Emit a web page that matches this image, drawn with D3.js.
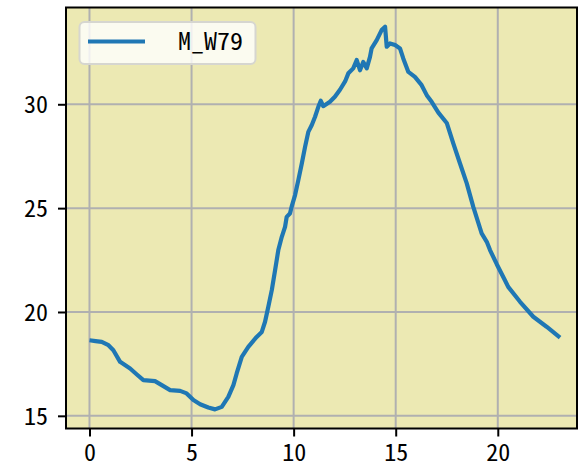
<!DOCTYPE html>
<html>
<head>
<meta charset="utf-8">
<script src="https://cdn.jsdelivr.net/npm/d3@7"></script>
<style>
    body { margin: 0; background: #ffffff; }
    text { font-family: "Noto Sans Mono CJK JP", "Noto Sans CJK JP", "DejaVu Sans Mono", sans-serif; }
</style>
</head>
<body>
<svg id="chart" width="579" height="469"></svg>
<script>
// hour of day and reading for M_W79
const hours = [0, 0.3, 0.6, 0.93, 1.17, 1.5, 1.99, 2.32, 2.64, 3.21, 3.54, 3.95, 4.44, 4.76, 5.09, 5.42,
    5.82, 6.15, 6.48, 6.8, 7.05, 7.21, 7.46, 7.78, 8.19, 8.44, 8.6, 8.76, 8.93, 9.09, 9.25, 9.42,
    9.58, 9.66, 9.82, 9.9, 10.07, 10.23, 10.4, 10.56, 10.72, 10.89, 11.05, 11.21, 11.33, 11.45, 11.78,
    12.02, 12.27, 12.52, 12.68, 12.92, 13.09, 13.25, 13.41, 13.58, 13.74, 13.82, 14.07, 14.31, 14.48,
    14.56, 14.72, 14.97, 15.21, 15.37, 15.62, 15.94, 16.27, 16.52, 16.76, 17.09, 17.5, 17.82, 18.15,
    18.48, 18.8, 19.21, 19.46, 19.62, 19.95, 20.35, 20.51, 21.09, 21.74, 22.39, 23.05];
const values = [18.64, 18.6, 18.56, 18.4, 18.16, 17.6, 17.28, 16.99, 16.72, 16.67, 16.48, 16.24, 16.2, 16.08, 15.76, 15.56,
    15.4, 15.31, 15.43, 15.91, 16.48, 17.04, 17.84, 18.32, 18.8, 19.04, 19.53, 20.25, 21.05, 22.0, 22.98, 23.62,
    24.1, 24.58, 24.74, 25.06, 25.63, 26.35, 27.15, 27.95, 28.67, 29.0, 29.4, 29.88, 30.17, 29.91, 30.12,
    30.36, 30.7, 31.1, 31.49, 31.73, 32.13, 31.64, 32.04, 31.73, 32.28, 32.69, 33.09, 33.57, 33.73,
    32.77, 32.93, 32.85, 32.69, 32.21, 31.56, 31.32, 30.92, 30.44, 30.12, 29.6, 29.1, 28.12, 27.15,
    26.19, 25.06, 23.78, 23.38, 22.98, 22.3, 21.53, 21.21, 20.49, 19.77, 19.29, 18.77];
const xTicks = [0, 5, 10, 15, 20];
const yTicks = [15, 20, 25, 30];
const seriesName = "M_W79";

function drawChart() {
    const svg = d3.select("#chart");
    const plot = {left: 66, right: 577, top: 7.5, bottom: 428.5};

    const x = d3.scaleLinear().domain([-1.15, 23.88]).range([plot.left, plot.right]);
    const y = d3.scaleLinear().domain([14.39, 34.66]).range([plot.bottom, plot.top]);

    svg.append("rect")
        .attr("x", plot.left)
        .attr("y", plot.top)
        .attr("width", plot.right - plot.left)
        .attr("height", plot.bottom - plot.top)
        .attr("fill", "#ece9b3");

    // grid
    const grid = svg.append("g");
    grid.selectAll(".vgrid")
        .data(xTicks)
        .join("line")
        .attr("x1", (d) => x(d)).attr("x2", (d) => x(d))
        .attr("y1", plot.top).attr("y2", plot.bottom)
        .attr("stroke", "#b0b0b0")
        .attr("stroke-width", 2);
    grid.selectAll(".hgrid")
        .data(yTicks)
        .join("line")
        .attr("y1", (d) => y(d)).attr("y2", (d) => y(d))
        .attr("x1", plot.left).attr("x2", plot.right)
        .attr("stroke", "#b0b0b0")
        .attr("stroke-width", 2);

    const line = d3.line()
        .x((d, i) => x(hours[i]))
        .y((d) => y(d));

    svg.append("path")
        .datum(values)
        .attr("fill", "none")
        .attr("stroke", "#1f77b4")
        .attr("stroke-width", 4.2)
        .attr("stroke-linejoin", "round")
        .attr("d", line);

    // axes
    const xAxis = svg.append("g")
        .attr("transform", `translate(0, ${plot.bottom})`)
        .call(d3.axisBottom(x).tickValues(xTicks).tickSize(8).tickPadding(7).tickSizeOuter(0));
    const yAxis = svg.append("g")
        .attr("transform", `translate(${plot.left}, 0)`)
        .call(d3.axisLeft(y).tickValues(yTicks).tickSize(8).tickPadding(10).tickSizeOuter(0));

    [xAxis, yAxis].forEach((a) => {
        a.select(".domain").remove();
        a.selectAll("line").attr("stroke", "#000").attr("stroke-width", 2);
        a.selectAll("text")
            .attr("fill", "#000")
            .style("font-size", "24px");
    });
    yAxis.selectAll("text").attr("dy", "0.36em");
    xAxis.selectAll("text").attr("dy", "0.72em");

    svg.append("rect")
        .attr("x", plot.left)
        .attr("y", plot.top)
        .attr("width", plot.right - plot.left)
        .attr("height", plot.bottom - plot.top)
        .attr("fill", "none")
        .attr("stroke", "#000")
        .attr("stroke-width", 2);

    // legend
    const legend = svg.append("g");
    legend.append("rect")
        .attr("x", 79.5).attr("y", 22)
        .attr("width", 176).attr("height", 42)
        .attr("rx", 5)
        .attr("fill", "#ffffff").attr("fill-opacity", 0.8)
        .attr("stroke", "#d6d6d0").attr("stroke-width", 2);
    legend.append("line")
        .attr("x1", 88).attr("x2", 145)
        .attr("y1", 41.5).attr("y2", 41.5)
        .attr("stroke", "#1f77b4")
        .attr("stroke-width", 4.2);
    legend.append("text")
        .attr("x", 178).attr("y", 50)
        .attr("textLength", 65)
        .attr("lengthAdjust", "spacingAndGlyphs")
        .style("font-size", "24px")
        .text(seriesName);
}

drawChart();
</script>
</body>
</html>
